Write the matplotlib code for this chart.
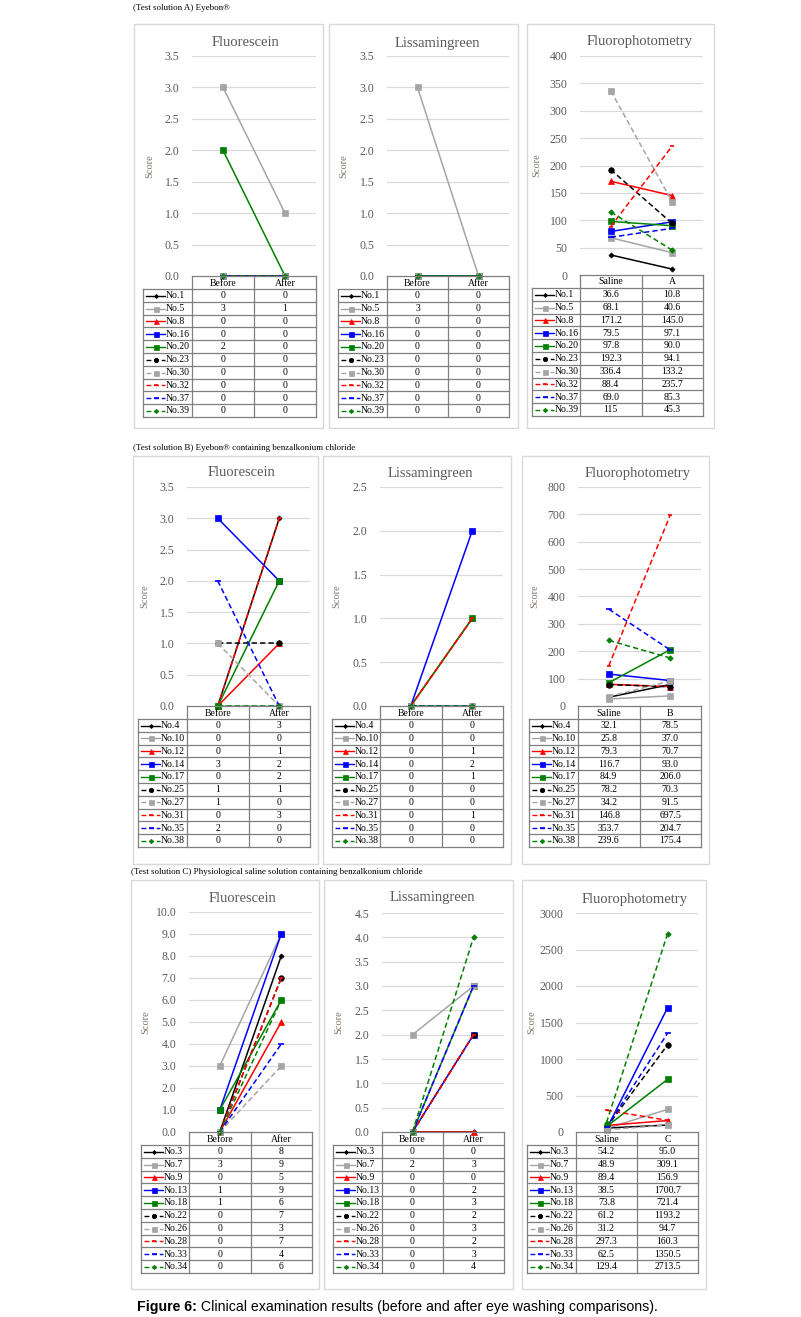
import matplotlib
matplotlib.use("Agg")
import matplotlib.pyplot as plt
from matplotlib.lines import Line2D
import numpy as np

# ---------------- data ----------------
ids_a = ["No.1", "No.5", "No.8", "No.16", "No.20", "No.23", "No.30", "No.32", "No.37", "No.39"]
a_fluor_before = [0, 3, 0, 0, 2, 0, 0, 0, 0, 0]
a_fluor_after = [0, 1, 0, 0, 0, 0, 0, 0, 0, 0]
a_liss_before = [0, 3, 0, 0, 0, 0, 0, 0, 0, 0]
a_liss_after = [0, 0, 0, 0, 0, 0, 0, 0, 0, 0]
a_photo_saline = [36.6, 68.1, 171.2, 79.5, 97.8, 192.3, 336.4, 88.4, 69.0, 115]
a_photo_test = [10.8, 40.6, 145.0, 97.1, 90.0, 94.1, 133.2, 235.7, 85.3, 45.3]

ids_b = ["No.4", "No.10", "No.12", "No.14", "No.17", "No.25", "No.27", "No.31", "No.35", "No.38"]
b_fluor_before = [0, 0, 0, 3, 0, 1, 1, 0, 2, 0]
b_fluor_after = [3, 0, 1, 2, 2, 1, 0, 3, 0, 0]
b_liss_before = [0, 0, 0, 0, 0, 0, 0, 0, 0, 0]
b_liss_after = [0, 0, 1, 2, 1, 0, 0, 1, 0, 0]
b_photo_saline = [32.1, 25.8, 79.3, 116.7, 84.9, 78.2, 34.2, 146.8, 353.7, 239.6]
b_photo_test = [78.5, 37.0, 70.7, 93.0, 206.0, 70.3, 91.5, 697.5, 204.7, 175.4]

ids_c = ["No.3", "No.7", "No.9", "No.13", "No.18", "No.22", "No.26", "No.28", "No.33", "No.34"]
c_fluor_before = [0, 3, 0, 1, 1, 0, 0, 0, 0, 0]
c_fluor_after = [8, 9, 5, 9, 6, 7, 3, 7, 4, 6]
c_liss_before = [0, 2, 0, 0, 0, 0, 0, 0, 0, 0]
c_liss_after = [0, 3, 0, 2, 3, 2, 3, 2, 3, 4]
c_photo_saline = [54.2, 48.9, 89.4, 38.5, 73.8, 61.2, 31.2, 297.3, 62.5, 129.4]
c_photo_test = [95.0, 309.1, 156.9, 1700.7, 721.4, 1193.2, 94.7, 160.3, 1350.5, 2713.5]

cols_score = ["Before", "After"]
section_titles = ["(Test solution A) Eyebon\u00ae",
                  "(Test solution B) Eyebon\u00ae containing benzalkonium chloride",
                  "(Test solution C) Physiological saline solution containing benzalkonium chloride"]
panel_titles = ["Fluorescein", "Lissamingreen", "Fluorophotometry"]

# ---------------- styles ----------------
DASH = (0, (3.5, 2))
styles = [
    dict(color="#000000", ls="-", marker="D", ms=2.6),
    dict(color="#a5a5a5", ls="-", marker="s", ms=4.5),
    dict(color="#ff0000", ls="-", marker="^", ms=4.5),
    dict(color="#0000ff", ls="-", marker="s", ms=4.5),
    dict(color="#008000", ls="-", marker="s", ms=4.5),
    dict(color="#000000", ls=DASH, marker="o", ms=4),
    dict(color="#a5a5a5", ls=DASH, marker="s", ms=4.5),
    dict(color="#ff0000", ls=DASH, marker="_", ms=3),
    dict(color="#0000ff", ls=DASH, marker="_", ms=4.5),
    dict(color="#008000", ls=DASH, marker="D", ms=2.8),
]

W, H = 801, 1317
fig = plt.figure(figsize=(W / 100, H / 100), dpi=100)
SERIF = ["Liberation Serif", "DejaVu Serif"]
GRAY_TXT = "#595959"
TBL = "#7f7f7f"

ov = fig.add_axes([0, 0, 1, 1], zorder=-1)
ov.set_xlim(0, W)
ov.set_ylim(H, 0)
ov.axis("off")
ov2 = fig.add_axes([0, 0, 1, 1], zorder=5)
ov2.set_xlim(0, W)
ov2.set_ylim(H, 0)
ov2.axis("off")
ov2.patch.set_alpha(0)


def fx(x):
    return x / W


def fy(y):
    return 1 - y / H


def panel(box, btop, bbot, px0, px1, ytop, y0, legx, ymax, step, fmt, title, tx, ty,
          sx, ids, v0, v1, cols):
    ov.add_patch(plt.Rectangle((box[0], btop), box[1] - box[0], bbot - btop,
                               fill=True, fc="white", ec="#d9d9d9", lw=1.0))
    ax = fig.add_axes([fx(px0), fy(y0), fx(px1) - fx(px0), (y0 - ytop) / H])
    ax.set_xlim(-0.5, 1.5)
    ax.set_ylim(0, ymax)
    ticks = np.arange(0, ymax + step / 2, step)
    ax.set_yticks(ticks)
    ax.set_yticklabels([fmt % t for t in ticks], fontfamily=SERIF, fontsize=8.5, color=GRAY_TXT)
    ax.tick_params(axis="y", length=0, pad=9)
    ax.set_xticks([])
    for s in ax.spines.values():
        s.set_visible(False)
    ax.patch.set_alpha(0)
    for t in ticks[1:]:
        ax.axhline(t, color="#d9d9d9", lw=0.9, zorder=0)
    for i in range(len(ids)):
        st = styles[i]
        ax.plot([0, 1], [v0[i], v1[i]], color=st["color"], ls=st["ls"], lw=1.1,
                marker=st["marker"], ms=st["ms"], mec=st["color"], mfc=st["color"],
                mew=1.2 if st["marker"] == "_" else 0.5, clip_on=False, zorder=3 + i * 0.01)
    ov2.text(tx, ty, title, fontfamily=SERIF, fontsize=10.5, color=GRAY_TXT,
             ha="center", va="center")
    ov2.text(sx, (ytop + y0) / 2, "Score", fontfamily=SERIF, fontsize=7.5,
             color="#85746a", rotation=90, ha="center", va="center")
    # table
    xm = (px0 + px1) / 2
    rh = 12.8
    hb = y0 + 13
    bot = hb + rh * len(ids)
    lw = 0.9
    ov2.plot([px0, px1], [y0, y0], color=TBL, lw=lw)
    ov2.plot([legx, px1], [hb, hb], color=TBL, lw=lw)
    for k in range(1, len(ids) + 1):
        yy = hb + rh * k
        ov2.plot([legx, px1], [yy, yy], color=TBL, lw=lw)
    ov2.plot([legx, legx], [hb, bot], color=TBL, lw=lw)
    for xx in (px0, xm, px1):
        ov2.plot([xx, xx], [y0, bot], color=TBL, lw=lw)
    cx0 = (px0 + xm) / 2
    cx1 = (xm + px1) / 2
    ov2.text(cx0, y0 + 7, cols[0], fontfamily=SERIF, fontsize=7, ha="center", va="center")
    ov2.text(cx1, y0 + 7, cols[1], fontfamily=SERIF, fontsize=7, ha="center", va="center")
    for k in range(len(ids)):
        yc = hb + rh * k + rh / 2 + 0.3
        st = styles[k]
        ov2.add_line(Line2D([legx + 3, legx + 22], [yc, yc], color=st["color"], ls=st["ls"],
                            lw=1.0))
        ov2.add_line(Line2D([legx + 12.5], [yc], color=st["color"], marker=st["marker"],
                            ms=st["ms"] * 0.8, mec=st["color"], mfc=st["color"],
                            mew=1.2 if st["marker"] == "_" else 0.5, ls="none"))
        ov2.text(legx + 23, yc, ids[k], fontfamily=SERIF, fontsize=7, ha="left", va="center")
        ov2.text(cx0, yc, str(v0[k]), fontfamily=SERIF, fontsize=7, ha="center", va="center")
        ov2.text(cx1, yc, str(v1[k]), fontfamily=SERIF, fontsize=7, ha="center", va="center")


ov2.text(133, 8, section_titles[0], fontfamily=SERIF, fontsize=6.5, va="center")
ov2.text(133, 448, section_titles[1], fontfamily=SERIF, fontsize=6.5, va="center")
ov2.text(131, 872, section_titles[2], fontfamily=SERIF, fontsize=6.5, va="center")

panel((134, 323), 24, 428, 192, 316, 56, 276, 143, 3.5, 0.5, "%.1f", panel_titles[0], 245, 43,
      150, ids_a, a_fluor_before, a_fluor_after, cols_score)
panel((329, 518), 24, 428, 387, 509, 56, 276, 338, 3.5, 0.5, "%.1f", panel_titles[1], 437, 43,
      344, ids_a, a_liss_before, a_liss_after, cols_score)
panel((527, 714), 24, 428, 580, 703, 56, 275, 532, 400, 50, "%d", panel_titles[2], 640, 42,
      537, ids_a, a_photo_saline, a_photo_test, ["Saline", "A"])

panel((133, 318), 456, 864, 187, 310, 487, 706, 138, 3.5, 0.5, "%.1f", panel_titles[0], 241, 473,
      145, ids_b, b_fluor_before, b_fluor_after, cols_score)
panel((323, 511), 456, 864, 380, 503, 487, 706, 332, 2.5, 0.5, "%.1f", panel_titles[1], 430, 473,
      337, ids_b, b_liss_before, b_liss_after, cols_score)
panel((522, 709), 456, 864, 578, 701, 487, 706, 529, 800, 100, "%d", panel_titles[2], 638, 473,
      535, ids_b, b_photo_saline, b_photo_test, ["Saline", "B"])

panel((131, 319), 880, 1289, 189, 312, 912, 1132, 141, 10, 1, "%.1f", panel_titles[0], 242, 898,
      146, ids_c, c_fluor_before, c_fluor_after, cols_score)
panel((324, 513), 880, 1289, 382, 504, 913, 1132, 333, 4.5, 0.5, "%.1f", panel_titles[1], 432, 898,
      339, ids_c, c_liss_before, c_liss_after, cols_score)
panel((522, 706), 880, 1289, 576, 698, 913, 1132, 527, 3000, 500, "%d", panel_titles[2], 635, 900,
      532, ids_c, c_photo_saline, c_photo_test, ["Saline", "C"])

SANS = ["Liberation Sans", "DejaVu Sans"]
t1 = ov2.text(137, 1307, "Figure 6:", fontfamily=SANS, fontsize=10.2, fontweight="bold",
              va="center", ha="left")
ov2.annotate(" Clinical examination results (before and after eye washing comparisons).",
             xy=(1, 0.5), xycoords=t1, va="center", ha="left", fontfamily=SANS, fontsize=10.2)

fig.savefig("out.png", dpi=100)
